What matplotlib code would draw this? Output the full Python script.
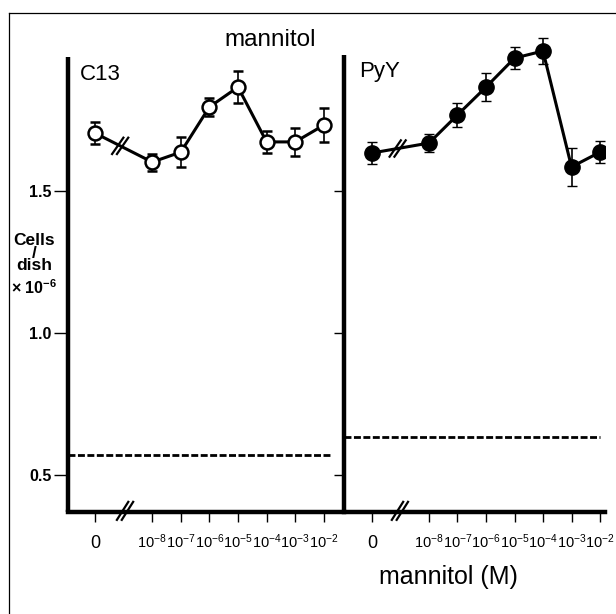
import matplotlib
matplotlib.use('Agg')
import matplotlib.pyplot as plt
from matplotlib.lines import Line2D

plt.rcParams['font.family'] = ['Liberation Sans', 'DejaVu Sans']
plt.rcParams['lines.scale_dashes'] = False

# ---- data ----
x_pos = [0, 2, 3, 4, 5, 6, 7, 8]
tick_labels = ['0'] + [r'$\mathregular{10^{-%d}}$' % k for k in (8, 7, 6, 5, 4, 3, 2)]
c13 = [1.704, 1.602, 1.637, 1.796, 1.866, 1.673, 1.673, 1.732]
c13_err = [0.040, 0.030, 0.053, 0.033, 0.055, 0.040, 0.050, 0.060]
pyy = [1.634, 1.669, 1.768, 1.866, 1.968, 1.993, 1.585, 1.637]
pyy_err = [0.040, 0.032, 0.042, 0.050, 0.040, 0.046, 0.067, 0.040]
c13_control = 0.570
pyy_control = 0.634
y_ticks = [0.5, 1.0, 1.5]
y_tick_labels = ['0.5', '1.0', '1.5']

W, H = 616, 614
fig = plt.figure(figsize=(W / 100, H / 100), dpi=100)

def fx(px):
    return px / W

def fy(py):
    return 1 - py / H

ylo, yhi = 0.37, 2.067
axL = fig.add_axes([fx(68), fy(512), fx(344) - fx(68), fy(30) - fy(512)])
axR = fig.add_axes([fx(344), fy(512), fx(605) - fx(344), fy(30) - fy(512)])
axL.set_xlim(-0.944, 8.706)
axR.set_xlim(-0.982, 8.175)

spine_lw = 3.2

def style(ax, top, labels):
    ax.set_ylim(ylo, yhi)
    ax.patch.set_alpha(0)
    for s in ['top', 'right']:
        ax.spines[s].set_visible(False)
    ax.spines['left'].set_linewidth(spine_lw)
    ax.spines['bottom'].set_linewidth(spine_lw)
    ax.spines['left'].set_bounds(ylo, top)
    ax.spines['left'].set_capstyle('butt')
    ax.set_xticks(x_pos)
    ax.set_xticklabels(tick_labels, fontsize=10.5)
    ax.tick_params(axis='x', length=7, width=1, direction='out', pad=19)
    for lab in ax.get_xticklabels():
        lab.set_verticalalignment('baseline')
    ax.get_xticklabels()[0].set_fontsize(13)
    ax.set_yticks(y_ticks)
    if labels:
        ax.set_yticklabels(y_tick_labels, fontsize=11.5, fontweight='bold')
        ax.tick_params(axis='y', length=10, width=1, direction='out', pad=2)
    else:
        ax.set_yticklabels([])
        ax.tick_params(axis='y', length=7, width=1, direction='out')

style(axL, 1.972, True)
style(axR, 1.98, False)

# control dashed lines
axL.plot([-0.944, 8.29], [c13_control] * 2, color='k', lw=2.0, dashes=(5, 1.8), solid_capstyle='butt')
axR.plot([-0.982, 8.0], [pyy_control] * 2, color='k', lw=2.0, dashes=(5, 1.8), solid_capstyle='butt')

# data
axL.errorbar(x_pos, c13, yerr=c13_err, color='k', lw=2.2, elinewidth=1.2, capsize=3.5, capthick=1.2,
             marker='o', ms=10, mfc='white', mec='k', mew=1.8, zorder=3)
axR.errorbar(x_pos, pyy, yerr=pyy_err, color='k', lw=2.2, elinewidth=1.2, capsize=3.5, capthick=1.2,
             marker='o', ms=11, mfc='k', mec='k', mew=1, zorder=3)

def break_mark(ax, x, y, dx=0.22, dy=0.032, sep=0.17, lw=1.6):
    for off in (-sep / 2, sep / 2):
        ax.plot([x + off - dx, x + off + dx], [y - dy, y + dy], color='k', lw=lw,
                clip_on=False, zorder=5, solid_capstyle='butt')

# breaks on data lines
break_mark(axL, 0.88, c13[0] + (c13[1] - c13[0]) * 0.44)
break_mark(axR, 0.90, pyy[0] + (pyy[1] - pyy[0]) * 0.45)
# breaks on axis
break_mark(axL, 1.05, ylo + 0.004, dy=0.035)
break_mark(axR, 0.98, ylo + 0.004, dy=0.035)

# texts
fig.text(fx(270), fy(40), 'mannitol', ha='center', va='center', fontsize=17.5)
fig.text(fx(80), fy(74), 'C13', ha='left', va='center', fontsize=16)
fig.text(fx(359), fy(72), 'PyY', ha='left', va='center', fontsize=16)
fig.text(fx(448), fy(577), 'mannitol (M)', ha='center', va='center', fontsize=18)

fig.text(fx(34), fy(253), 'Cells\n/\ndish', ha='center', va='center', multialignment='center',
         fontsize=12.5, fontweight='bold', linespacing=0.78)
fig.text(fx(34), fy(288), r'× 10$\mathregular{^{-6}}$', ha='center', va='center',
         fontsize=11.5, fontweight='bold')

# frame
fig.add_artist(Line2D([fx(9), fx(9)], [0, fy(13)], transform=fig.transFigure, color='k', lw=0.9))
fig.add_artist(Line2D([fx(9), 1], [fy(13), fy(13)], transform=fig.transFigure, color='k', lw=0.9))

fig.savefig('out.png', dpi=100)
